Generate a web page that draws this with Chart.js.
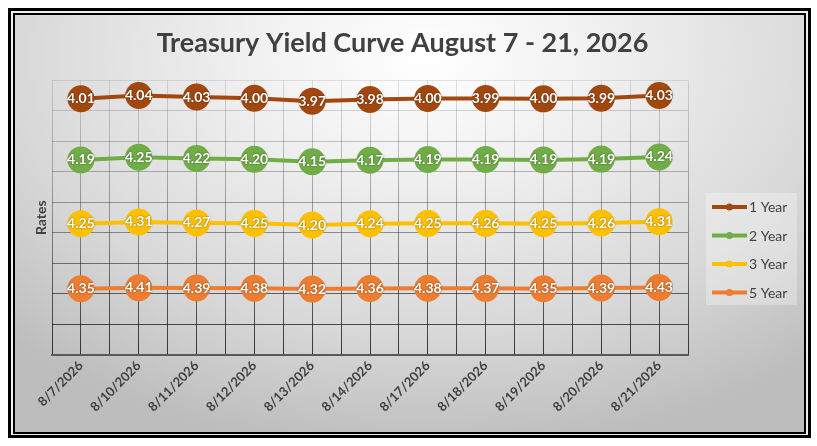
<!DOCTYPE html>
<html>
<head>
<meta charset="utf-8">
<script src="https://cdn.jsdelivr.net/npm/chart.js@4.4.1/dist/chart.umd.min.js"></script>
<style>
    html, body { margin: 0; padding: 0; background: #ffffff; }
    #frame-outer {
        position: absolute; left: 8px; top: 8px; width: 803px; height: 430px;
        box-sizing: border-box; border: 3px solid #000; background: #eeeeee;
    }
    #frame-inner {
        position: absolute; left: 13px; top: 13px; width: 793px; height: 421px;
        box-sizing: border-box; border: 2px solid #000;
        background: radial-gradient(ellipse 75% 95% at 52% 10%, #ffffff 0%, #f0f0f0 30%, #d8d8d8 70%, #bdbdbd 100%);
    }
    #chart-wrap { position: absolute; left: 0; top: 0; width: 817px; height: 446px; }
</style>
</head>
<body>
<div id="frame-outer"></div>
<div id="frame-inner"></div>
<div id="chart-wrap"><canvas id="yield-chart"></canvas></div>
<script>
const dates = ['8/7/2026', '8/10/2026', '8/11/2026', '8/12/2026', '8/13/2026', '8/14/2026',
    '8/17/2026', '8/18/2026', '8/19/2026', '8/20/2026', '8/21/2026'];
const oneYear = [4.01, 4.04, 4.03, 4.00, 3.97, 3.98, 4.00, 3.99, 4.00, 3.99, 4.03];
const twoYear = [4.19, 4.25, 4.22, 4.20, 4.15, 4.17, 4.19, 4.19, 4.19, 4.19, 4.24];
const threeYear = [4.25, 4.31, 4.27, 4.25, 4.20, 4.24, 4.25, 4.26, 4.25, 4.26, 4.31];
const fiveYear = [4.35, 4.41, 4.39, 4.38, 4.32, 4.36, 4.38, 4.37, 4.35, 4.39, 4.43];

const seriesColors = {
    "1 Year": "#a2480f",
    "2 Year": "#70ad47",
    "3 Year": "#ffc000",
    "5 Year": "#ed7d31"
}

const FONT = 'Lato';

// stacked from the bottom up: 5 Year first, 1 Year on top
function makeSeries(label, values) {
    return {
        label: label,
        data: values,
        borderColor: seriesColors[label],
        backgroundColor: seriesColors[label],
        pointBackgroundColor: seriesColors[label],
        borderWidth: 4,
        pointRadius: 13.5,
        pointBorderWidth: 0,
        pointHoverRadius: 13.5,
        tension: 0,
        fill: false
    };
}

const datasets = [
    makeSeries("5 Year", fiveYear),
    makeSeries("3 Year", threeYear),
    makeSeries("2 Year", twoYear),
    makeSeries("1 Year", oneYear)
];

// grid lines fade from light at the top to dark at the bottom
function gridGradient(context) {
    const chart = context.chart;
    const area = chart.chartArea;
    if (!area) {
        return 'rgba(0,0,0,0.3)';
    }
    const g = chart.ctx.createLinearGradient(0, area.top, 0, area.bottom);
    g.addColorStop(0, 'rgba(0,0,0,0.10)');
    g.addColorStop(0.5, 'rgba(0,0,0,0.35)');
    g.addColorStop(1, 'rgba(0,0,0,0.75)');
    return g;
}

const valueLabels = {
    id: 'valueLabels',
    afterDatasetsDraw(chart) {
        const ctx = chart.ctx;
        ctx.save();
        ctx.font = `bold 14px ${FONT}`;
        ctx.textAlign = 'center';
        ctx.textBaseline = 'middle';
        ctx.fillStyle = '#ffffff';
        ctx.shadowColor = 'rgba(0,0,0,0.55)';
        ctx.shadowBlur = 2;
        chart.data.datasets.forEach((ds, i) => {
            const meta = chart.getDatasetMeta(i);
            meta.data.forEach((pt, j) => {
                ctx.fillText(ds.data[j].toFixed(2), pt.x, pt.y);
            });
        });
        ctx.restore();
    }
};

// Excel style legend: line with marker, boxed on the right
const sideLegend = {
    id: 'sideLegend',
    afterDraw(chart) {
        const ctx = chart.ctx;
        const area = chart.chartArea;
        const left = area.right + 18;
        const top = 193;
        const order = ["1 Year", "2 Year", "3 Year", "5 Year"];
        ctx.save();
        ctx.fillStyle = 'rgba(255,255,255,0.3)';
        ctx.fillRect(left, top, 91, 112);
        ctx.font = `14px ${FONT}`;
        ctx.textBaseline = 'middle';
        ctx.textAlign = 'left';
        order.forEach((name, i) => {
            const y = top + 14 + i * 28.5;
            ctx.strokeStyle = seriesColors[name];
            ctx.fillStyle = seriesColors[name];
            ctx.lineWidth = 4;
            ctx.beginPath();
            ctx.moveTo(left + 6, y);
            ctx.lineTo(left + 41, y);
            ctx.stroke();
            ctx.beginPath();
            ctx.arc(left + 23.5, y, 3.5, 0, Math.PI * 2);
            ctx.fill();
            ctx.fillStyle = '#404040';
            ctx.fillText(name, left + 43, y + 0.5);
        });
        ctx.restore();
    }
};

const config = {
    type: 'line',
    data: {
        labels: dates,
        datasets: datasets
    },
    options: {
        responsive: true,
        maintainAspectRatio: false,
        animation: false,
        events: [],
        layout: {
            autoPadding: false,
            padding: { top: 14, left: 0, right: 12, bottom: 0 }
        },
        plugins: {
            legend: { display: false },
            tooltip: { enabled: false },
            title: {
                display: true,
                text: 'Treasury Yield Curve August 7 - 21, 2026',
                color: '#404040',
                font: { family: FONT, size: 27, weight: 'bold', lineHeight: 1.2 },
                padding: { top: 13, bottom: 21 }
            }
        },
        scales: {
            x: {
                type: 'category',
                offset: true,
                grid: { offset: true, color: gridGradient, drawTicks: false, lineWidth: 1 },
                border: { display: true, color: '#595959', width: 2 },
                ticks: {
                    color: '#404040',
                    font: { family: FONT, size: 13, weight: 'bold' },
                    minRotation: 45,
                    maxRotation: 45,
                    padding: 3,
                    autoSkip: false
                },
                afterFit(scale) { scale.height = 91; }
            },
            xMid: {
                type: 'category',
                position: 'bottom',
                offset: true,
                grid: { offset: false, color: gridGradient, drawTicks: false, lineWidth: 1 },
                border: { display: false },
                ticks: { display: false },
                afterFit(scale) { scale.height = 0; }
            },
            y: {
                stacked: true,
                min: 0,
                max: 18,
                ticks: { display: false, stepSize: 2 },
                grid: { color: gridGradient, drawTicks: false, lineWidth: 1 },
                border: { display: false },
                title: {
                    display: true,
                    text: 'Rates',
                    color: '#404040',
                    font: { family: FONT, size: 14, weight: 'bold' },
                    padding: { top: 33, bottom: 4 }
                },
                afterFit(scale) { scale.width = 52; }
            },
            // empty right-hand axis that leaves room for the legend
            legendSpace: {
                position: 'right',
                display: true,
                grid: { display: false },
                border: { display: false },
                ticks: { display: false },
                afterFit(scale) { scale.width = 117; }
            }
        }
    },
    plugins: [valueLabels, sideLegend]
};

new Chart(document.getElementById('yield-chart'), config);
</script>
</body>
</html>
